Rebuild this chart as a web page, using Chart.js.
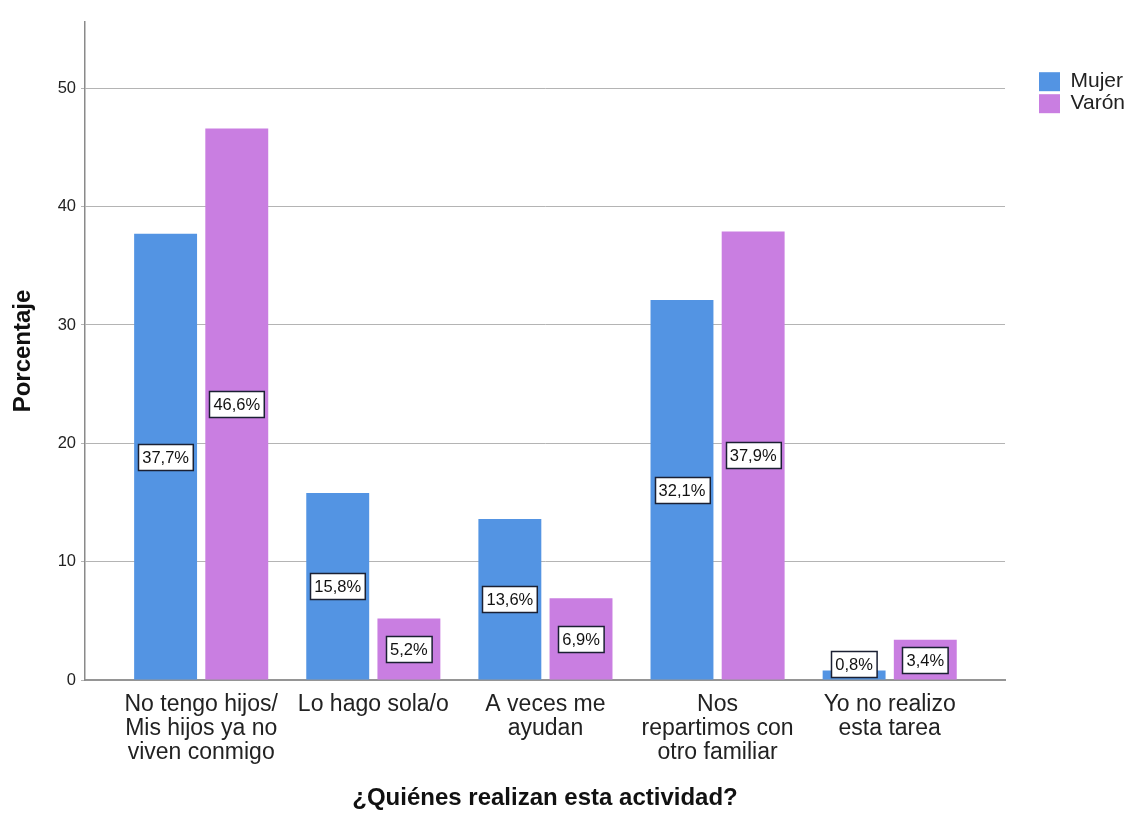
<!DOCTYPE html>
<html>
<head>
<meta charset="utf-8">
<script src="https://cdn.jsdelivr.net/npm/chart.js@4.4.1/dist/chart.umd.min.js"></script>
<style>
  html, body { margin: 0; padding: 0; background: #ffffff; }
  #wrap { width: 1132px; height: 813px; }
</style>
</head>
<body>
<div id="wrap"><canvas id="chart" width="1132" height="813"></canvas></div>
<script>
// Categories (multi-line labels) and percentages per sex
const categories = [
  ['No tengo hijos/', 'Mis hijos ya no', 'viven conmigo'],
  ['Lo hago sola/o'],
  ['A veces me', 'ayudan'],
  ['Nos', 'repartimos con', 'otro familiar'],
  ['Yo no realizo', 'esta tarea']
];
const seriesNames = ['Mujer', 'Varón'];
const mujer = [37.7, 15.8, 13.6, 32.1, 0.8];
const varon = [46.6, 5.2, 6.9, 37.9, 3.4];
const yTickValues = [0, 10, 20, 30, 40, 50];

const FONT = '"Liberation Sans", Arial, Helvetica, sans-serif';
Chart.defaults.font.family = FONT;
Chart.defaults.color = '#222222';

const toPoints = arr => arr.map((v, i) => ({ x: i, y: v }));
const fmt = v => v.toFixed(1).replace('.', ',') + '%';

// Boxed value labels placed at the middle of each bar
const valueLabels = {
  id: 'valueLabels',
  afterDatasetsDraw(chart) {
    const ctx = chart.ctx;
    ctx.save();
    ctx.font = '16.5px ' + FONT;
    ctx.textAlign = 'center';
    ctx.textBaseline = 'middle';
    chart.data.datasets.forEach((ds, di) => {
      const meta = chart.getDatasetMeta(di);
      meta.data.forEach((bar, i) => {
        const text = fmt(ds.data[i].y);
        const w = ctx.measureText(text).width + 8;
        const h = 26;
        const mid = (bar.y + bar.base) / 2;
        const cy = Math.min(mid, bar.base - h / 2 - 2.5);
        const x0 = Math.round(bar.x - w / 2) + 0.5;
        const y0 = Math.round(cy - h / 2) + 0.5;
        ctx.fillStyle = '#ffffff';
        ctx.fillRect(x0, y0, w, h);
        ctx.strokeStyle = '#1b2033';
        ctx.lineWidth = 1.5;
        ctx.strokeRect(x0, y0, w, h);
        ctx.fillStyle = '#111111';
        ctx.fillText(text, bar.x, y0 + h / 2 + 1);
      });
    });
    ctx.restore();
  }
};

new Chart(document.getElementById('chart'), {
  type: 'bar',
  data: {
    datasets: [
      {
        label: seriesNames[0],
        data: toPoints(mujer),
        backgroundColor: '#5394e3',
        borderWidth: 0,
        categoryPercentage: 0.827,
        barPercentage: 0.884
      },
      {
        label: seriesNames[1],
        data: toPoints(varon),
        backgroundColor: '#c97ee1',
        borderWidth: 0,
        categoryPercentage: 0.827,
        barPercentage: 0.884
      }
    ]
  },
  options: {
    responsive: false,
    animation: false,
    devicePixelRatio: 1,
    layout: { padding: { top: 22, left: 0, right: -3, bottom: 0 } },
    scales: {
      x: {
        type: 'linear',
        min: -0.675,
        max: 4.67,
        offset: false,
        afterBuildTicks: s => { s.ticks = categories.map((_, i) => ({ value: i })); },
        afterFit: s => { s.height = 133; },
        grid: { display: false, drawTicks: false },
        border: { display: true, color: '#959595', width: 2 },
        ticks: {
          autoSkip: false,
          maxRotation: 0,
          minRotation: 0,
          padding: 12,
          color: '#222222',
          font: { size: 23, lineHeight: 1.06 },
          callback: v => categories[v] || ''
        },
        title: {
          display: true,
          text: '¿Quiénes realizan esta actividad?',
          color: '#111111',
          font: { size: 24, weight: 'bold' },
          padding: { top: 0, bottom: 0 }
        }
      },
      y: {
        min: 0,
        max: 55.6,
        afterBuildTicks: s => { s.ticks = yTickValues.map(v => ({ value: v })); },
        afterFit: s => { s.width = 85; },
        grid: { color: '#b4b4b4', lineWidth: 1, tickLength: 4 },
        border: { display: true, color: '#8a8a8a', width: 1.5 },
        ticks: { padding: 5, color: '#222222', font: { size: 16.5 } },
        title: {
          display: true,
          text: 'Porcentaje',
          color: '#111111',
          font: { size: 24, weight: 'bold' },
          padding: { top: 9, bottom: 10 }
        }
      },
      gap: {
        type: 'linear',
        axis: 'y',
        position: 'right',
        display: true,
        grid: { display: false, drawTicks: false },
        border: { display: false },
        ticks: { display: false },
        afterFit: s => { s.width = 33; }
      }
    },
    plugins: {
      legend: {
        position: 'right',
        align: 'start',
        title: { display: true, text: ' ', font: { size: 1 }, padding: { top: 47, bottom: 0 } },
        labels: {
          boxWidth: 21,
          boxHeight: 19,
          padding: 1,
          color: '#222222',
          font: { size: 21 }
        }
      },
      tooltip: { enabled: false }
    }
  },
  plugins: [valueLabels]
});
</script>
</body>
</html>
